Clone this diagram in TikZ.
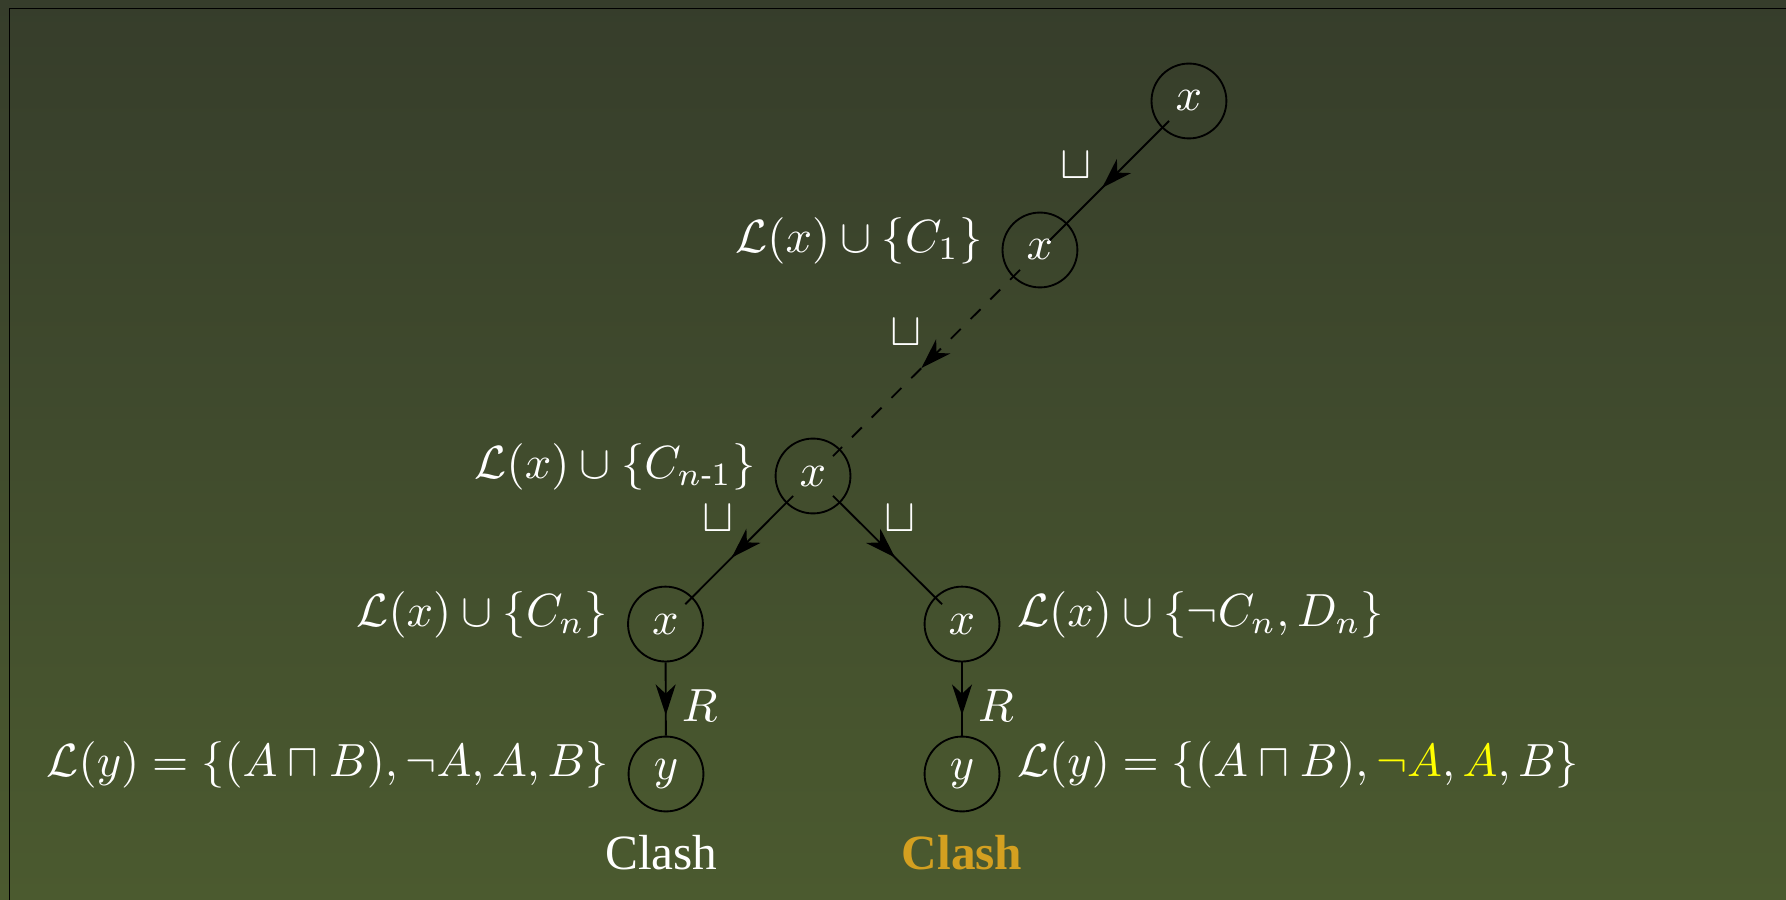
\documentclass[tikz,border=0pt]{standalone}
\usepackage{amsmath}
\usepackage{fontspec}
\setmainfont{Liberation Serif}
\usetikzlibrary{positioning,arrows.meta,decorations.markings}
\definecolor{bgTop}{RGB}{54,61,43}
\definecolor{bgBottom}{RGB}{75,90,47}
\definecolor{clashGold}{RGB}{212,160,32}
\definecolor{hlYellow}{RGB}{255,255,0}

\begin{document}
\begin{tikzpicture}[
    node distance=2.9pt,
    world/.style={circle, draw=black, text=white, minimum size=16.1pt, inner sep=0pt},
    tag/.style={text=white, inner sep=1pt},
    rule/.style={text=white, inner sep=1pt},
    verdict/.style={text=white, inner sep=1pt, font=\fontsize{10.6}{12}\selectfont},
    mid arrow/.style={postaction={decorate}, decoration={markings, mark=at position #1 with {\arrow{Stealth[length=6.6pt,width=4.3pt,inset=2pt]}}}},
    mid arrow/.default=0.58,
    into/.style={shorten <=-2.2pt, shorten >=-2.2pt}
]
  \useasboundingbox (0,0) rectangle (13.497,-6.794);
  \shade[top color=bgTop, bottom color=bgBottom] (0,0) rectangle (13.497,-6.794);
  \draw[line width=0.3pt] (0.072,-7) -- (0.072,-0.064) -- (14,-0.064);

  % the worlds
  \node[world] (top) at (8.985,-0.763) {$x$};
  \node[world] (x1) at (7.859,-1.889) {$x$};
  \node[world] (xn1) at (6.144,-3.597) {$x$};
  \node[world] (xl) at (5.029,-4.716) {$x$};
  \node[world] (xr) at (7.270,-4.716) {$x$};
  \node[world] (yl) at (5.033,-5.849) {$y$};
  \node[world] (yr) at (7.270,-5.849) {$y$};

  % their labels
  \node[tag, left=of x1, yshift=2pt] (lx1) {$\mathcal{L}(x) \cup \{C_1\}$};
  \node[tag, left=of xn1, yshift=2pt] (lxn1) {$\mathcal{L}(x) \cup \{C_{n\text{-}1}\}$};
  \node[tag, left=of xl, yshift=2pt] (lxl) {$\mathcal{L}(x) \cup \{C_n\}$};
  \node[tag, right=2.4pt of xr, yshift=2pt] (lxr) {$\mathcal{L}(x) \cup \{\neg C_n, D_n\}$};
  \node[tag, left=of yl, yshift=2pt] (lyl) {$\mathcal{L}(y) = \{(A \sqcap B), \neg A, A, B\}$};
  \node[tag, right=2.4pt of yr, yshift=2pt] (lyr) {$\mathcal{L}(y) = \{(A \sqcap B), \textcolor{hlYellow}{\neg A}, \textcolor{hlYellow}{A}, B\}$};
  \node[verdict, below=3.8pt of yl, xshift=-1pt] (cl) {Clash};
  \node[verdict, below=3.8pt of yr, text=clashGold] (cr) {\bfseries Clash};

  % the rule applications
  \draw[into, shorten >=-5.3pt, mid arrow=0.63] (top) -- node[rule, midway, xshift=-8.2pt, yshift=2.2pt] {$\sqcup$} (x1);
  \draw[into, dashed, mid arrow=0.53] (x1) -- node[rule, midway, xshift=-4.5pt, yshift=6.5pt] {$\sqcup$} (xn1);
  \draw[into, mid arrow] (xn1) -- node[rule, midway, xshift=-4.5pt, yshift=6.7pt] {$\sqcup$} (xl);
  \draw[into, mid arrow] (xn1) -- node[rule, midway, xshift=2.6pt, yshift=6.7pt] {$\sqcup$} (xr);
  \draw[mid arrow=0.72] (xl) -- node[rule, midway, xshift=7.3pt, yshift=-1.5pt] {$R$} (yl);
  \draw[mid arrow=0.72] (xr) -- node[rule, midway, xshift=7.3pt, yshift=-1.5pt] {$R$} (yr);
\end{tikzpicture}
\end{document}
